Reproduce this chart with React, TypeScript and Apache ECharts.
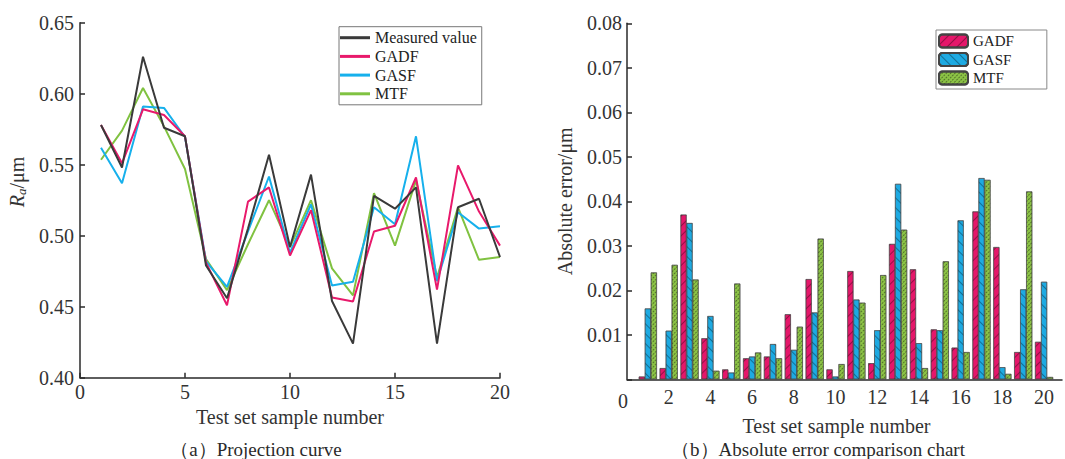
import React, { useEffect, useRef } from 'react';
import * as echarts from 'echarts';

const samples = [1, 2, 3, 4, 5, 6, 7, 8, 9, 10, 11, 12, 13, 14, 15, 16, 17, 18, 19, 20];
const measured = [0.578, 0.548, 0.626, 0.576, 0.570, 0.479, 0.456, 0.505, 0.557, 0.492, 0.543, 0.454, 0.424, 0.528, 0.519, 0.534, 0.424, 0.520, 0.526, 0.485];
const gadf = [0.578, 0.551, 0.589, 0.585, 0.570, 0.481, 0.451, 0.524, 0.534, 0.486, 0.518, 0.4565, 0.4537, 0.503, 0.507, 0.541, 0.462, 0.5495, 0.517, 0.493];
const gasf = [0.562, 0.537, 0.591, 0.590, 0.5695, 0.482, 0.464, 0.503, 0.5417, 0.488, 0.522, 0.465, 0.4676, 0.520, 0.508, 0.570, 0.468, 0.5165, 0.505, 0.5067];
const mtf = [0.5535, 0.574, 0.604, 0.577, 0.547, 0.4836, 0.4617, 0.494, 0.525, 0.492, 0.525, 0.477, 0.458, 0.530, 0.493, 0.539, 0.4706, 0.520, 0.483, 0.485];

const errGadf = [0.0006, 0.0025, 0.037, 0.0092, 0.0022, 0.0047, 0.0051, 0.0146, 0.0225, 0.0022, 0.0243, 0.0036, 0.0304, 0.0247, 0.0112, 0.0071, 0.0377, 0.0297, 0.0061, 0.0084];
const errGasf = [0.0159, 0.0109, 0.0351, 0.0142, 0.0015, 0.0051, 0.0079, 0.0066, 0.015, 0.0006, 0.0179, 0.011, 0.0439, 0.0081, 0.011, 0.0357, 0.0452, 0.0027, 0.0202, 0.0219];
const errMtf = [0.024, 0.0257, 0.0224, 0.0019, 0.0215, 0.006, 0.0047, 0.0118, 0.0316, 0.0034, 0.0172, 0.0234, 0.0336, 0.0025, 0.0265, 0.0061, 0.0448, 0.0012, 0.0422, 0.0005];

const lineNames = ['Measured value', 'GADF', 'GASF', 'MTF'];
const lineColors = ['#3a3a3a', '#e8196b', '#16b0ec', '#80c241'];
const barNames = ['GADF', 'GASF', 'MTF'];
const barColors = ['#e5176a', '#1eaae2', '#8cc346'];

const FONT = 'Liberation Serif';
const AX = '#2a2a2a';

function pairs(v: number[]) {
  return samples.map((s, i) => [s, v[i]]);
}

export default function App() {
  const leftRef = useRef<HTMLDivElement>(null);
  const rightRef = useRef<HTMLDivElement>(null);

  useEffect(() => {
    const left = echarts.init(leftRef.current!, undefined, { renderer: 'svg' });
    const right = echarts.init(rightRef.current!, undefined, { renderer: 'svg' });

    const lineSeries = [measured, gadf, gasf, mtf].map((d, i) => ({
      type: 'line',
      name: lineNames[i],
      data: pairs(d),
      symbol: 'none',
      z: 10 - i,
      lineStyle: { color: lineColors[i], width: 2 },
      itemStyle: { color: lineColors[i] },
    }));

    left.setOption({
      animation: false,
      textStyle: { fontFamily: FONT },
      grid: { left: 80, top: 22.7, width: 420, height: 355 },
      xAxis: {
        type: 'value', min: 0, max: 20, interval: 5,
        axisLine: { lineStyle: { color: AX, width: 1.5 } },
        axisTick: { inside: true, length: 5, lineStyle: { color: AX, width: 1.5 } },
        axisLabel: { color: '#333', fontSize: 20, fontFamily: FONT, margin: 4 },
        splitLine: { show: false },
        name: 'Test set sample number', nameLocation: 'middle', nameGap: 24,
        nameTextStyle: { color: '#333', fontSize: 20, fontFamily: FONT },
      },
      yAxis: {
        type: 'value', min: 0.4, max: 0.65, interval: 0.05,
        axisLine: { show: true, lineStyle: { color: AX, width: 1.5 } },
        axisTick: { show: true, inside: true, length: 5, lineStyle: { color: AX, width: 1.5 } },
        axisLabel: { color: '#333', fontSize: 20, fontFamily: FONT, margin: 6, formatter: (v: number) => v.toFixed(2) },
        splitLine: { show: false },
      },
      legend: {
        data: lineNames,
        orient: 'vertical',
        left: 339, top: 26.7,
        icon: 'rect',
        itemWidth: 30, itemHeight: 3, itemGap: 2.7,
        padding: [3, 5, 3, 1],
        borderColor: '#777', borderWidth: 1,
        textStyle: { color: '#222', fontSize: 16, lineHeight: 16, fontFamily: FONT },
      },
      series: lineSeries,
      graphic: [
        {
          type: 'text', x: 17, y: 182, rotation: Math.PI / 2,
          style: {
            text: '{i|R}{s|a}{n|/μm}',
            align: 'center', verticalAlign: 'middle',
            rich: {
              i: { fontFamily: FONT, fontSize: 20, fontStyle: 'italic', fill: '#333' },
              s: { fontFamily: FONT, fontSize: 13, fontStyle: 'italic', fill: '#333', padding: [8, 0, 0, 0] },
              n: { fontFamily: FONT, fontSize: 20, fill: '#333' },
            },
          },
        },
        {
          type: 'text', x: 256, y: 449,
          style: { text: '（a）Projection curve', fontFamily: FONT, fontSize: 19, fill: '#2a2a2a', align: 'center', verticalAlign: 'middle' },
        },
      ],
    });

    const decals = [
      { symbol: 'rect', dashArrayX: [1, 0], dashArrayY: [1, 6], rotation: -Math.PI / 4, color: 'rgba(0,0,0,0.35)' },
      { symbol: 'rect', dashArrayX: [1, 0], dashArrayY: [1, 6], rotation: Math.PI / 4, color: 'rgba(0,0,0,0.35)' },
      { symbol: 'rect', dashArrayX: [2, 1], dashArrayY: [1, 1.5], rotation: -Math.PI / 4, color: 'rgba(0,0,0,0.4)' },
    ];

    const barSeries = [errGadf, errGasf, errMtf].map((d, i) => ({
      type: 'bar',
      name: barNames[i],
      data: pairs(d),
      barWidth: 6,
      barGap: '0%',
      itemStyle: { color: barColors[i], borderColor: '#444', borderWidth: 0.5, decal: decals[i] },
    }));

    right.setOption({
      animation: false,
      textStyle: { fontFamily: FONT },
      grid: { left: 87, top: 23.3, width: 438, height: 356 },
      xAxis: {
        type: 'value', min: 0, max: 20.86, interval: 2,
        axisLine: { lineStyle: { color: AX, width: 1.5 } },
        axisTick: { show: false },
        axisLabel: {
          color: '#333', fontSize: 20, fontFamily: FONT, margin: 8,
          formatter: (v: number) => {
            if (v === 0) return '{z|0}';
            return Math.abs(v - Math.round(v)) < 1e-6 && Math.round(v) % 2 === 0 ? String(Math.round(v)) : '';
          },
          rich: { z: { fontSize: 20, fontFamily: FONT, color: '#333', padding: [4, 8, 0, 0] } },
        },
        splitLine: { show: false },
        name: 'Test set sample number', nameLocation: 'middle', nameGap: 24,
        nameTextStyle: { color: '#333', fontSize: 20, fontFamily: FONT, padding: [0, 16, 0, 0] },
      },
      yAxis: {
        type: 'value', min: 0, max: 0.08, interval: 0.01,
        axisLine: { show: true, lineStyle: { color: AX, width: 1.5 } },
        axisTick: { show: true, inside: true, length: 5, lineStyle: { color: AX, width: 1.5 } },
        axisLabel: { color: '#333', fontSize: 20, fontFamily: FONT, margin: 5, formatter: (v: number) => (v === 0 ? '' : v.toFixed(2)) },
        splitLine: { show: false },
        name: 'Absolute error/μm', nameLocation: 'middle', nameGap: 52, nameRotate: 90,
        nameTextStyle: { color: '#333', fontSize: 20, fontFamily: FONT },
      },
      legend: {
        data: barNames,
        orient: 'vertical',
        left: 396, top: 30,
        itemWidth: 29, itemHeight: 13, itemGap: 2.5,
        padding: [3, 33, 3, 2],
        borderColor: '#888', borderWidth: 1,
        textStyle: { color: '#222', fontSize: 15, lineHeight: 16, fontFamily: FONT },
      },
      series: barSeries,
      graphic: [
        {
          type: 'text', x: 278, y: 449,
          style: { text: '（b）Absolute error comparison chart', fontFamily: FONT, fontSize: 19, fill: '#2a2a2a', align: 'center', verticalAlign: 'middle' },
        },
      ],
    });

    return () => {
      left.dispose();
      right.dispose();
    };
  }, []);

  return (
    <div style={{ position: 'fixed', left: 0, top: 0, width: 1065, height: 459, background: '#fff' }}>
      <div ref={leftRef} style={{ position: 'absolute', left: 0, top: 0, width: 540, height: 459 }} />
      <div ref={rightRef} style={{ position: 'absolute', left: 540, top: 0, width: 525, height: 459 }} />
    </div>
  );
}
